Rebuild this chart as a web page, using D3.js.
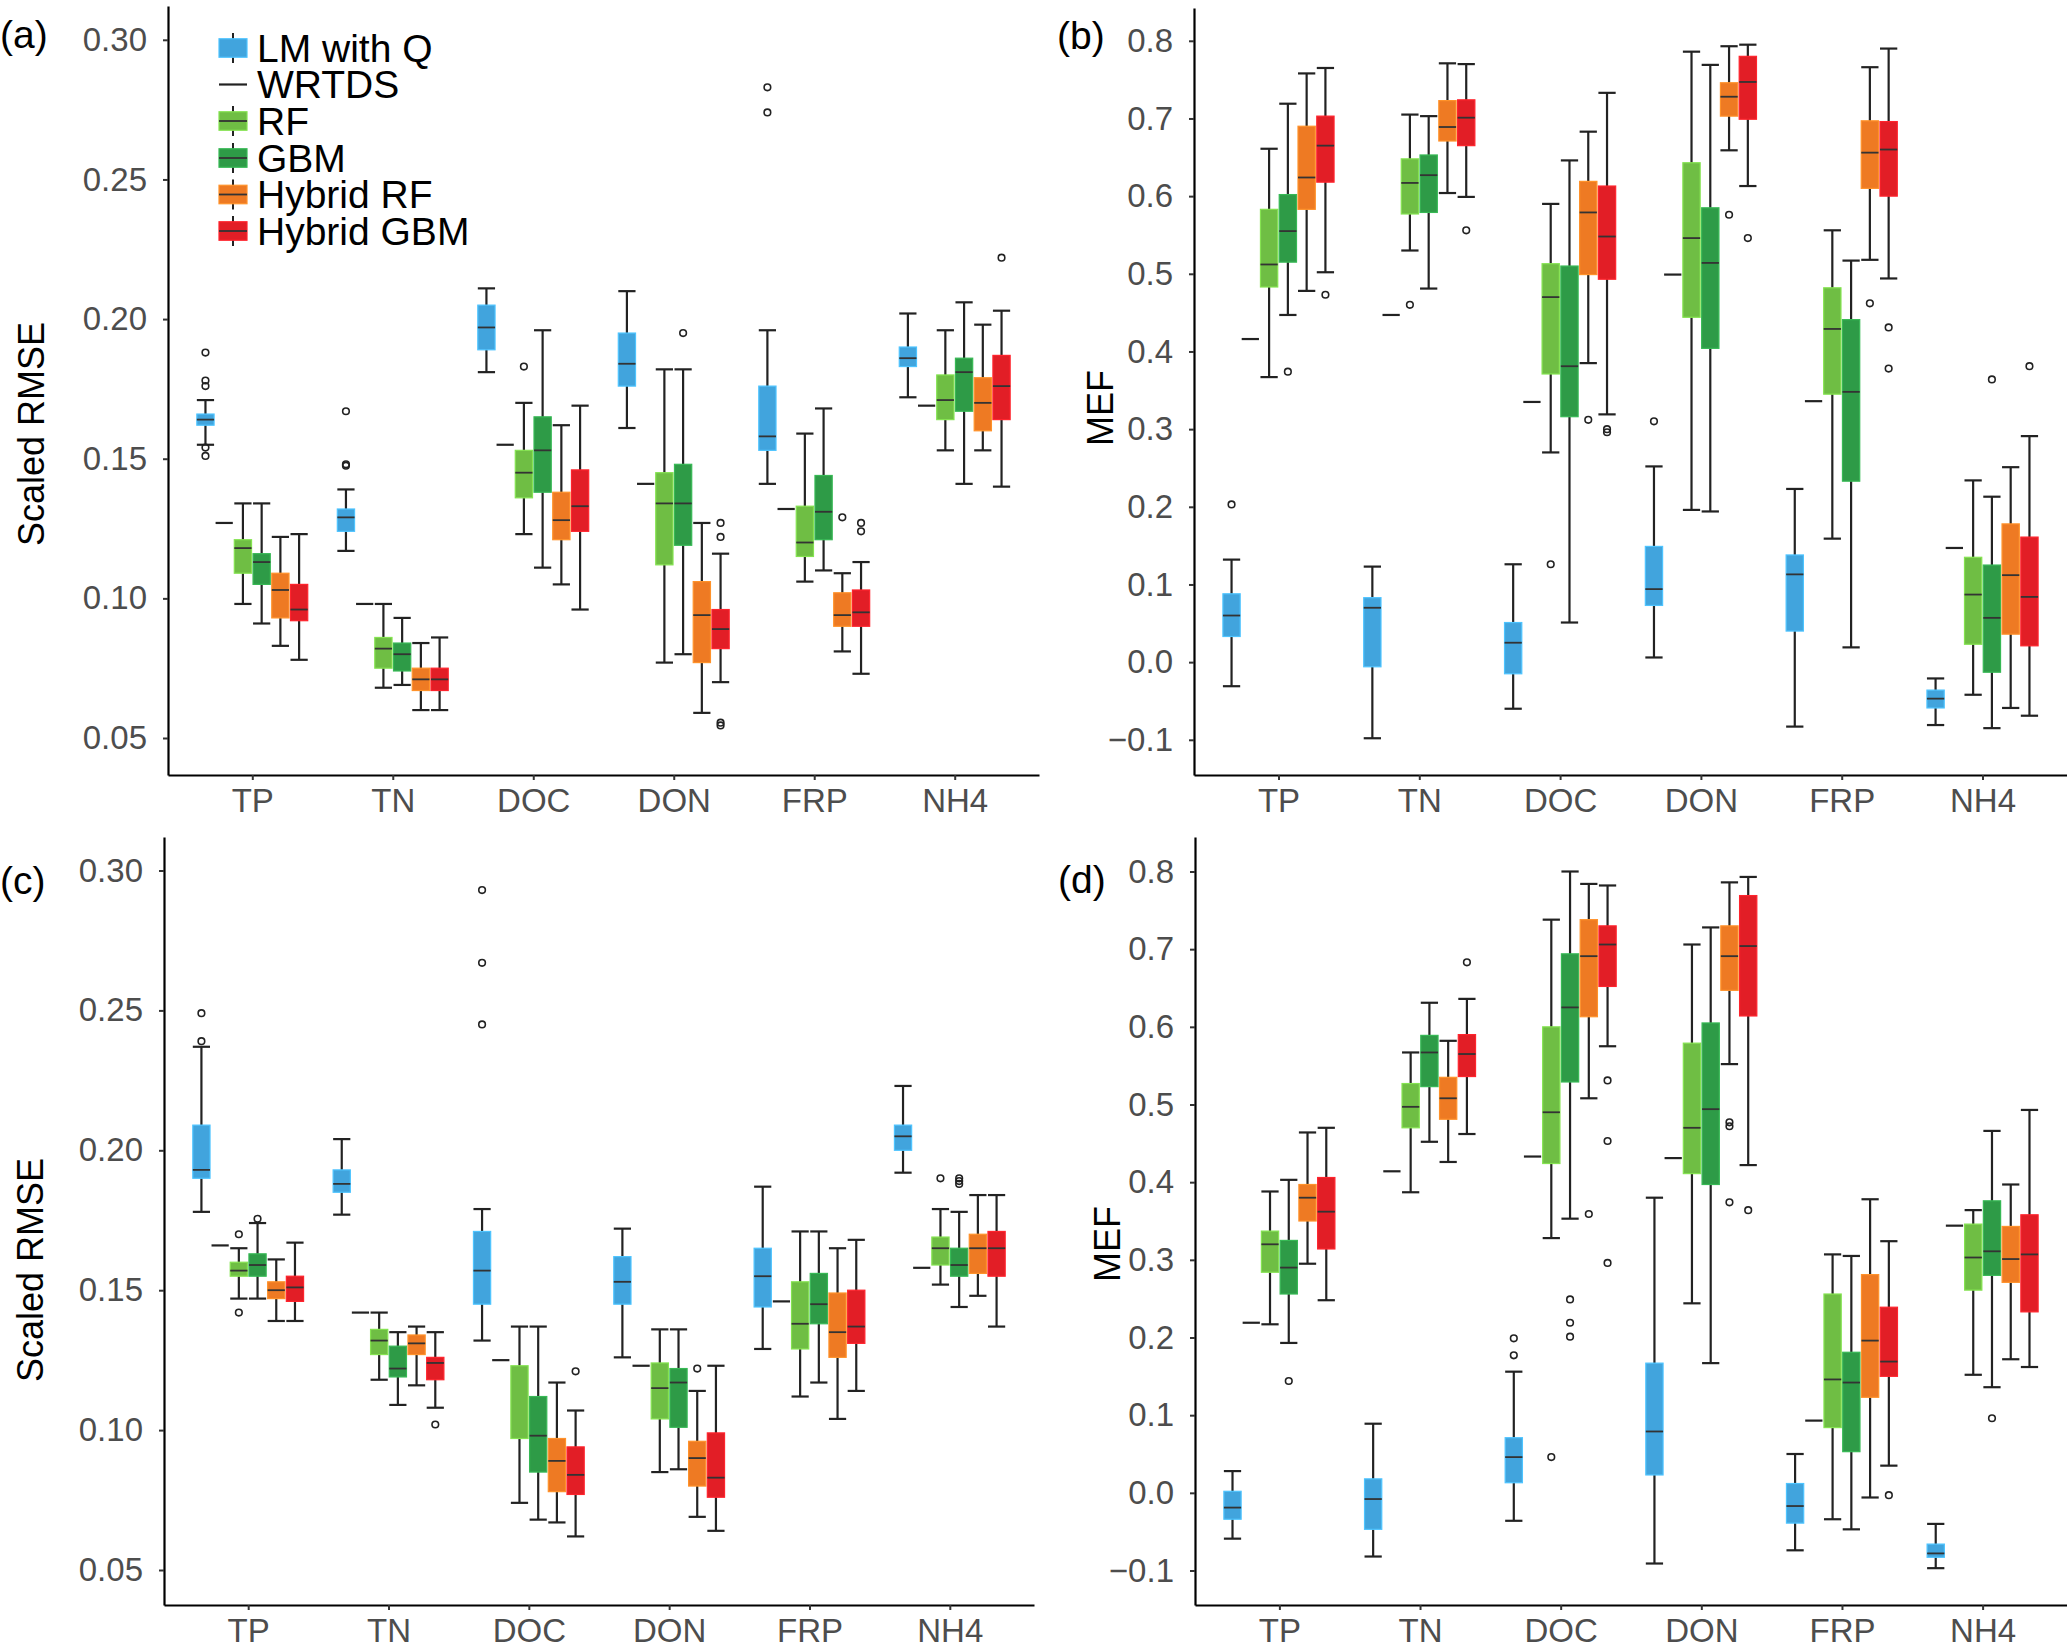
<!DOCTYPE html>
<html>
<head>
<meta charset="utf-8">
<script src="https://cdn.jsdelivr.net/npm/d3@7"></script>
<style>
  body { margin: 0; background: #fff; }
  svg { display: block; font-family: "Liberation Sans", Arial, sans-serif; }
</style>
</head>
<body>
<div id="chartContainer"></div>
<script>
const ctx = {
    SVG_W: 2067,
    SVG_H: 1646,
    tickFont: 33,
    titleFont: 36,
    tagFont: 39,
    legendFont: 39,
    dodge: 0.8,      // share of a category step used by the 6 models
    boxShare: 0.92,  // box width inside its slot
};

// ---------- data ----------
const categories = ["TP", "TN", "DOC", "DON", "FRP", "NH4"];
const models = ["LM with Q", "WRTDS", "RF", "GBM", "Hybrid RF", "Hybrid GBM"];
const modelColors = ["#41a4dd", "#222222", "#6fbe44", "#2e9b47", "#ee7a23", "#e21e26"];

const rmseTicks = [0.05, 0.10, 0.15, 0.20, 0.25, 0.30];
const mefTicks = [-0.1, 0.0, 0.1, 0.2, 0.3, 0.4, 0.5, 0.6, 0.7, 0.8];

// each row: [lower whisker, q1, median, q3, upper whisker], one row per category
// (a) scaled RMSE
const rmseA_LM = [[0.155,0.162,0.164,0.166,0.171],[0.117,0.124,0.129,0.132,0.139],[0.181,0.189,0.197,0.205,0.211],
                  [0.161,0.176,0.184,0.195,0.210],[0.141,0.153,0.158,0.176,0.196],[0.172,0.183,0.186,0.190,0.202]];
const rmseA_RF = [[0.098,0.109,0.118,0.121,0.134],[0.068,0.075,0.082,0.086,0.098],[0.123,0.136,0.145,0.153,0.170],
                  [0.077,0.112,0.134,0.145,0.182],[0.106,0.115,0.120,0.133,0.159],[0.153,0.164,0.171,0.180,0.196]];
const rmseA_GBM = [[0.091,0.105,0.113,0.116,0.134],[0.069,0.074,0.080,0.084,0.093],[0.111,0.138,0.153,0.165,0.196],
                   [0.080,0.119,0.134,0.148,0.182],[0.110,0.121,0.131,0.144,0.168],[0.141,0.167,0.181,0.186,0.206]];
const rmseA_HRF = [[0.083,0.093,0.103,0.109,0.122],[0.060,0.067,0.071,0.075,0.084],[0.105,0.121,0.128,0.138,0.162],
                   [0.059,0.077,0.094,0.106,0.127],[0.081,0.090,0.094,0.102,0.109],[0.153,0.160,0.170,0.179,0.198]];
const rmseA_HGBM = [[0.078,0.092,0.096,0.105,0.123],[0.060,0.067,0.071,0.075,0.086],[0.096,0.124,0.133,0.146,0.169],
                    [0.070,0.082,0.089,0.096,0.116],[0.073,0.090,0.095,0.103,0.113],[0.140,0.164,0.176,0.187,0.203]];
const rmseA_WRTDS = [0.127, 0.098, 0.155, 0.141, 0.132, 0.169];
const rmseA_outliers = [
    ["LM with Q", "TP", [0.188, 0.178, 0.176, 0.154, 0.151]],
    ["LM with Q", "TN", [0.167, 0.148, 0.1475]],
    ["LM with Q", "FRP", [0.283, 0.274]],
    ["RF", "DOC", [0.183]],
    ["GBM", "DON", [0.195]],
    ["Hybrid RF", "FRP", [0.129]],
    ["Hybrid GBM", "DON", [0.127, 0.122, 0.0555, 0.0545]],
    ["Hybrid GBM", "FRP", [0.127, 0.124]],
    ["Hybrid GBM", "NH4", [0.222]]
];

// (b) MEF
const mefB_LM = [[-0.031,0.033,0.060,0.088,0.132],[-0.098,-0.006,0.070,0.083,0.123],[-0.060,-0.015,0.025,0.051,0.126],
                 [0.006,0.073,0.094,0.149,0.252],[-0.083,0.040,0.113,0.138,0.223],[-0.081,-0.059,-0.047,-0.036,-0.021]];
const mefB_RF = [[0.367,0.483,0.512,0.583,0.661],[0.530,0.577,0.617,0.648,0.705],[0.270,0.371,0.470,0.513,0.590],
                 [0.196,0.444,0.546,0.643,0.786],[0.159,0.345,0.429,0.482,0.556],[-0.042,0.023,0.087,0.135,0.234]];
const mefB_GBM = [[0.447,0.515,0.555,0.602,0.719],[0.481,0.579,0.627,0.653,0.703],[0.051,0.316,0.381,0.510,0.646],
                  [0.194,0.404,0.514,0.585,0.769],[0.019,0.233,0.348,0.441,0.517],[-0.085,-0.013,0.057,0.125,0.213]];
const mefB_HRF = [[0.478,0.583,0.624,0.690,0.758],[0.604,0.671,0.689,0.723,0.771],[0.385,0.499,0.579,0.619,0.683],
                  [0.659,0.703,0.728,0.746,0.793],[0.518,0.610,0.656,0.697,0.766],[-0.059,0.036,0.112,0.178,0.251]];
const mefB_HGBM = [[0.502,0.618,0.665,0.703,0.765],[0.599,0.665,0.701,0.724,0.770],[0.319,0.493,0.548,0.613,0.733],
                   [0.613,0.699,0.747,0.780,0.795],[0.494,0.600,0.660,0.696,0.790],[-0.069,0.021,0.084,0.161,0.291]];
const mefB_WRTDS = [0.416, 0.447, 0.335, 0.499, 0.336, 0.147];
const mefB_outliers = [
    ["LM with Q", "TP", [0.203]],
    ["LM with Q", "DON", [0.310]],
    ["RF", "TN", [0.460]],
    ["RF", "DOC", [0.126]],
    ["GBM", "TP", [0.374]],
    ["GBM", "NH4", [0.364]],
    ["Hybrid RF", "DOC", [0.312]],
    ["Hybrid RF", "DON", [0.576]],
    ["Hybrid RF", "FRP", [0.462]],
    ["Hybrid GBM", "TP", [0.473]],
    ["Hybrid GBM", "TN", [0.556]],
    ["Hybrid GBM", "DOC", [0.300, 0.296]],
    ["Hybrid GBM", "DON", [0.546]],
    ["Hybrid GBM", "FRP", [0.431, 0.378]],
    ["Hybrid GBM", "NH4", [0.381]]
];

// (c) scaled RMSE
const rmseC_LM = [[0.178,0.190,0.193,0.209,0.237],[0.177,0.185,0.188,0.193,0.204],[0.132,0.145,0.157,0.171,0.179],
                  [0.126,0.145,0.153,0.162,0.172],[0.129,0.144,0.155,0.165,0.187],[0.192,0.200,0.205,0.209,0.223]];
const rmseC_RF = [[0.147,0.155,0.157,0.160,0.165],[0.118,0.127,0.132,0.136,0.142],[0.074,0.097,null,0.123,0.137],
                  [0.085,0.104,0.115,0.124,0.136],[0.112,0.129,0.138,0.153,0.171],[0.152,0.159,0.165,0.169,0.179]];
const rmseC_GBM = [[0.147,0.155,0.159,0.163,0.174],[0.109,0.119,0.122,0.130,0.135],[0.068,0.085,0.098,0.112,0.137],
                   [0.086,0.101,0.117,0.122,0.136],[0.117,0.138,0.145,0.156,0.171],[0.144,0.155,0.159,0.165,0.178]];
const rmseC_HRF = [[0.139,0.147,0.150,0.153,0.161],[0.116,0.127,0.131,0.134,0.137],[0.067,0.078,0.089,0.097,0.117],
                   [0.069,0.080,0.090,0.096,0.114],[0.104,0.126,0.135,0.149,0.165],[0.148,0.156,0.165,0.170,0.184]];
const rmseC_HGBM = [[0.139,0.146,0.151,0.155,0.167],[0.108,0.118,0.124,0.126,0.135],[0.062,0.077,0.084,0.094,0.107],
                    [0.064,0.076,0.083,0.099,0.123],[0.114,0.131,0.137,0.150,0.168],[0.137,0.155,0.165,0.171,0.184]];
const rmseC_WRTDS = [0.166, 0.142, 0.125, 0.123, 0.146, 0.158];
const rmseC_outliers = [
    ["LM with Q", "TP", [0.249, 0.239]],
    ["LM with Q", "DOC", [0.293, 0.267, 0.245]],
    ["RF", "TP", [0.170, 0.142]],
    ["RF", "NH4", [0.190]],
    ["GBM", "TP", [0.1755]],
    ["GBM", "NH4", [0.190, 0.189, 0.188]],
    ["Hybrid RF", "DON", [0.122]],
    ["Hybrid GBM", "TN", [0.102]],
    ["Hybrid GBM", "DOC", [0.121]]
];

// (d) MEF
const mefD_LM = [[-0.059,-0.034,-0.019,0.002,0.028],[-0.082,-0.047,-0.008,0.018,0.089],[-0.036,0.013,0.046,0.071,0.156],
                 [-0.091,0.023,0.079,0.167,0.380],[-0.074,-0.039,-0.017,0.012,0.050],[-0.097,-0.083,-0.078,-0.066,-0.040]];
const mefD_RF = [[0.217,0.284,0.320,0.337,0.388],[0.387,0.470,0.497,0.527,0.567],[0.328,0.424,0.490,0.600,0.738],
                 [0.244,0.411,0.470,0.579,0.706],[-0.034,0.084,0.146,0.256,0.307],[0.152,0.261,0.303,0.346,0.364]];
const mefD_GBM = [[0.193,0.256,0.290,0.325,0.403],[0.452,0.523,0.567,0.589,0.631],[0.353,0.529,0.625,0.694,0.800],
                  [0.167,0.397,0.494,0.605,0.728],[-0.047,0.053,0.142,0.181,0.305],[0.136,0.280,0.311,0.376,0.466]];
const mefD_HRF = [[0.295,0.350,0.380,0.397,0.464],[0.426,0.481,0.508,0.535,0.582],[0.508,0.613,0.691,0.738,0.784],
                  [0.552,0.647,0.691,0.730,0.786],[-0.006,0.123,0.196,0.281,0.378],[0.172,0.271,0.301,0.343,0.397]];
const mefD_HGBM = [[0.248,0.314,0.362,0.406,0.470],[0.462,0.536,0.565,0.590,0.636],[0.575,0.652,0.706,0.730,0.782],
                   [0.422,0.614,0.704,0.769,0.793],[0.035,0.150,0.169,0.239,0.324],[0.162,0.233,0.307,0.358,0.493]];
const mefD_WRTDS = [0.219, 0.414, 0.433, 0.431, 0.093, 0.344];
const mefD_outliers = [
    ["LM with Q", "DOC", [0.199, 0.177]],
    ["RF", "DOC", [0.046]],
    ["GBM", "TP", [0.144]],
    ["GBM", "DOC", [0.249, 0.219, 0.201]],
    ["GBM", "NH4", [0.096]],
    ["Hybrid RF", "DOC", [0.359]],
    ["Hybrid RF", "DON", [0.477, 0.472, 0.374]],
    ["Hybrid GBM", "TN", [0.683]],
    ["Hybrid GBM", "DOC", [0.531, 0.453, 0.296]],
    ["Hybrid GBM", "DON", [0.364]],
    ["Hybrid GBM", "FRP", [-0.003]]
];

// ---------- layout of the four panels ----------
const panels = [
    { tag: "(a)", tagX: 0, tagY: 48, title: "Scaled RMSE", titleX: 31, titleY: 434,
      x0: 168, x1: 1039, top: 6, bottom: 775, ticks: rmseTicks, fmt: ".2f",
      tLow: 0.05, pLow: 738, tHigh: 0.30, pHigh: 39.8,
      boxes: [rmseA_LM, null, rmseA_RF, rmseA_GBM, rmseA_HRF, rmseA_HGBM],
      wrtds: rmseA_WRTDS, outliers: rmseA_outliers, legend: true },
    { tag: "(b)", tagX: 1057, tagY: 49, title: "MEF", titleX: 1100, titleY: 408,
      x0: 1194, x1: 2067, top: 8, bottom: 775, ticks: mefTicks, fmt: ".1f",
      tLow: -0.1, pLow: 739.8, tHigh: 0.8, pHigh: 40.8,
      boxes: [mefB_LM, null, mefB_RF, mefB_GBM, mefB_HRF, mefB_HGBM],
      wrtds: mefB_WRTDS, outliers: mefB_outliers },
    { tag: "(c)", tagX: 0, tagY: 894, title: "Scaled RMSE", titleX: 30, titleY: 1270,
      x0: 164, x1: 1034, top: 837, bottom: 1605, ticks: rmseTicks, fmt: ".2f",
      tLow: 0.05, pLow: 1570, tHigh: 0.30, pHigh: 870.5,
      boxes: [rmseC_LM, null, rmseC_RF, rmseC_GBM, rmseC_HRF, rmseC_HGBM],
      wrtds: rmseC_WRTDS, outliers: rmseC_outliers },
    { tag: "(d)", tagX: 1058, tagY: 893, title: "MEF", titleX: 1107, titleY: 1244,
      x0: 1195, x1: 2067, top: 837, bottom: 1605, ticks: mefTicks, fmt: ".1f",
      tLow: -0.1, pLow: 1570.5, tHigh: 0.8, pHigh: 871.5,
      boxes: [mefD_LM, null, mefD_RF, mefD_GBM, mefD_HRF, mefD_HGBM],
      wrtds: mefD_WRTDS, outliers: mefD_outliers }
];

function createViz() {
    const svg = d3.select("#chartContainer").append("svg")
        .attr("width", ctx.SVG_W)
        .attr("height", ctx.SVG_H);

    panels.forEach(p => drawPanel(svg, p));
}

function drawPanel(svg, p) {
    const g = svg.append("g").attr("class", "panel");

    // x: discrete, ggplot-like 0.6 expansion on both sides
    const x = d3.scalePoint().domain(categories).range([p.x0, p.x1]).padding(0.6);
    const slot = x.step() * ctx.dodge / models.length;
    const boxW = slot * ctx.boxShare;
    const offset = i => (i - (models.length - 1) / 2) * slot;

    // y: fixed by two tick positions, then stretched to the panel edges
    const y = d3.scaleLinear().domain([p.tLow, p.tHigh]).range([p.pLow, p.pHigh]);
    y.domain([y.invert(p.bottom), y.invert(p.top)]).range([p.bottom, p.top]);

    // boxes
    p.boxes.forEach((rows, mi) => {
        if (!rows) return;
        const color = modelColors[mi];
        const mg = g.append("g").attr("class", "model");
        rows.forEach((s, ci) => {
            const cx = x(categories[ci]) + offset(mi);
            const [lo, q1, med, q3, hi] = s;
            mg.append("line")
                .attr("x1", cx).attr("x2", cx)
                .attr("y1", y(lo)).attr("y2", y(hi))
                .attr("stroke", "#222").attr("stroke-width", 2.2);
            [lo, hi].forEach(v => {
                mg.append("line")
                    .attr("x1", cx - boxW / 2).attr("x2", cx + boxW / 2)
                    .attr("y1", y(v)).attr("y2", y(v))
                    .attr("stroke", "#222").attr("stroke-width", 2.2);
            });
            mg.append("rect")
                .attr("x", cx - boxW / 2)
                .attr("y", y(q3))
                .attr("width", boxW)
                .attr("height", y(q1) - y(q3))
                .attr("fill", color)
                .attr("stroke", d3.color(color).brighter(0.5))
                .attr("stroke-width", 1.2);
            if (med !== null) {
                mg.append("line")
                    .attr("x1", cx - boxW / 2).attr("x2", cx + boxW / 2)
                    .attr("y1", y(med)).attr("y2", y(med))
                    .attr("stroke", "#333").attr("stroke-width", 1.8);
            }
        });
    });

    // WRTDS: one value per category, drawn as a short line
    const wi = models.indexOf("WRTDS");
    g.selectAll(".wrtds")
        .data(p.wrtds)
        .enter()
        .append("line")
        .attr("class", "wrtds")
        .attr("x1", (d, i) => x(categories[i]) + offset(wi) - boxW / 2)
        .attr("x2", (d, i) => x(categories[i]) + offset(wi) + boxW / 2)
        .attr("y1", d => y(d))
        .attr("y2", d => y(d))
        .attr("stroke", "#222")
        .attr("stroke-width", 2.2);

    // outliers
    const pts = [];
    p.outliers.forEach(([m, c, vals]) => {
        vals.forEach(v => pts.push({ m, c, v }));
    });
    g.selectAll(".outlier")
        .data(pts)
        .enter()
        .append("circle")
        .attr("class", "outlier")
        .attr("cx", d => x(d.c) + offset(models.indexOf(d.m)))
        .attr("cy", d => y(d.v))
        .attr("r", 3.3)
        .attr("fill", "none")
        .attr("stroke", "#222")
        .attr("stroke-width", 1.6);

    // axes
    const xAxis = g.append("g")
        .attr("class", "axis x-axis")
        .attr("transform", `translate(0,${p.bottom})`)
        .call(d3.axisBottom(x).tickSize(5).tickPadding(9).tickSizeOuter(0));

    const yAxis = g.append("g")
        .attr("class", "axis y-axis")
        .attr("transform", `translate(${p.x0},0)`)
        .call(d3.axisLeft(y).tickValues(p.ticks).tickFormat(d3.format(p.fmt))
            .tickSize(5).tickPadding(16).tickSizeOuter(0));

    [xAxis, yAxis].forEach(a => {
        a.select(".domain").attr("stroke", "#000").attr("stroke-width", 2.2);
        a.selectAll(".tick line").attr("stroke", "#333").attr("stroke-width", 2);
        a.selectAll(".tick text")
            .attr("fill", "#4d4d4d")
            .style("font-size", ctx.tickFont + "px")
            .style("font-family", "'Liberation Sans', Arial, sans-serif");
    });

    // axis title and panel tag
    g.append("text")
        .attr("transform", `translate(${p.titleX},${p.titleY}) rotate(-90)`)
        .attr("text-anchor", "middle")
        .attr("dominant-baseline", "central")
        .style("font-size", ctx.titleFont + "px")
        .attr("fill", "#000")
        .text(p.title);

    g.append("text")
        .attr("x", p.tagX)
        .attr("y", p.tagY)
        .style("font-size", ctx.tagFont + "px")
        .attr("fill", "#000")
        .text(p.tag);

    if (p.legend) addLegend(g);
}

function addLegend(g) {
    const keyX = 219, keyW = 28, keyH = 18.5, textX = 257;
    const rowY = [48, 84.5, 121, 158, 194.5, 231];

    models.forEach((m, i) => {
        const cy = rowY[i];
        const cx = keyX + keyW / 2;
        const row = g.append("g").attr("class", "legend-row");
        if (m === "WRTDS") {
            row.append("line")
                .attr("x1", keyX).attr("x2", keyX + keyW)
                .attr("y1", cy).attr("y2", cy)
                .attr("stroke", "#222").attr("stroke-width", 2.2);
        } else {
            row.append("line")
                .attr("x1", cx).attr("x2", cx)
                .attr("y1", cy - 15).attr("y2", cy + 15)
                .attr("stroke", "#222").attr("stroke-width", 2);
            row.append("rect")
                .attr("x", keyX).attr("y", cy - keyH / 2)
                .attr("width", keyW).attr("height", keyH)
                .attr("fill", modelColors[i])
                .attr("stroke", d3.color(modelColors[i]).brighter(0.5))
                .attr("stroke-width", 1.2);
            if (i > 0) {
                row.append("line")
                    .attr("x1", keyX).attr("x2", keyX + keyW)
                    .attr("y1", cy).attr("y2", cy)
                    .attr("stroke", "#333").attr("stroke-width", 1.8);
            }
        }
        row.append("text")
            .attr("x", textX)
            .attr("y", cy)
            .attr("dominant-baseline", "central")
            .style("font-size", ctx.legendFont + "px")
            .attr("fill", "#000")
            .text(m);
    });
}

createViz();
</script>
</body>
</html>
